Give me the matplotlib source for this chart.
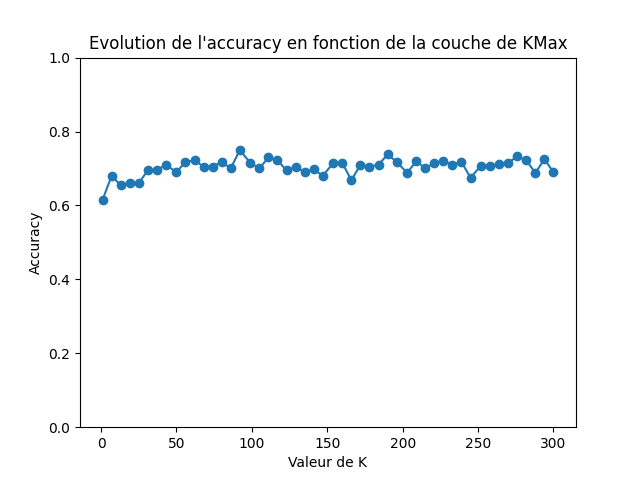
import matplotlib
matplotlib.use("Agg")
import matplotlib.pyplot as plt

k_values = [1, 7, 13, 19, 25, 31, 37, 43, 50, 56, 62, 68, 74, 80, 86, 92,
            99, 105, 111, 117, 123, 129, 135, 141, 147, 154, 160, 166, 172,
            178, 184, 190, 196, 203, 209, 215, 221, 227, 233, 239, 245, 252,
            258, 264, 270, 276, 282, 288, 294, 300]
accuracy = [0.615, 0.68, 0.655, 0.66, 0.66, 0.695, 0.695, 0.71, 0.69, 0.718,
            0.722, 0.705, 0.705, 0.718, 0.70, 0.75, 0.715, 0.70, 0.73, 0.722,
            0.695, 0.705, 0.69, 0.698, 0.68, 0.715, 0.715, 0.668, 0.71, 0.705,
            0.71, 0.738, 0.718, 0.688, 0.72, 0.70, 0.715, 0.72, 0.71, 0.718,
            0.675, 0.708, 0.708, 0.712, 0.715, 0.733, 0.722, 0.688, 0.725, 0.69]

fig, ax = plt.subplots(figsize=(6.4, 4.8), dpi=100)
ax.plot(k_values, accuracy, marker="o")
ax.set_ylim(0, 1)
ax.set_title("Evolution de l'accuracy en fonction de la couche de KMax")
ax.set_xlabel("Valeur de K")
ax.set_ylabel("Accuracy")
fig.savefig("out.png")
